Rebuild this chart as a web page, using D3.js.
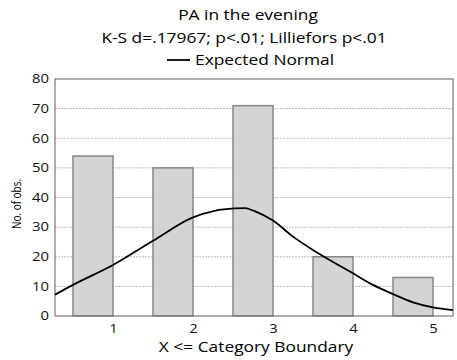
<!DOCTYPE html>
<html>
<head>
<meta charset="utf-8">
<script src="https://cdn.jsdelivr.net/npm/d3@7"></script>
<style>
  body { margin: 0; background: #fff; }
  svg { display: block; font-family: 'Open Sans', sans-serif; }
</style>
</head>
<body>
<svg></svg>
<script>
const w = 457;
const h = 360;

// bar categories (upper boundary) and counts
const categories = [1, 2, 3, 4, 5];
const counts = [54, 50, 71, 20, 13];

// expected normal curve
const curveX = [0.275, 0.5, 1.0, 1.5, 2.0, 2.27, 2.52, 2.65, 2.77, 3.0, 3.25, 3.5, 3.67, 4.0, 4.25, 4.5, 4.75, 5.0, 5.25];
const curveY = [7.2, 10.5, 17.2, 25.4, 33.3, 35.5, 36.3, 36.4, 35.4, 32.2, 26.8, 22.3, 19.5, 14.4, 10.5, 7.4, 4.6, 2.9, 2.0];

const yTicks = [0, 10, 20, 30, 40, 50, 60, 70, 80];

const plotLeft = 55, plotRight = 453, plotTop = 79, plotBottom = 316;
const sx = 1.24; // the reference type is wide

const svg = d3.select('svg').attr('width', w).attr('height', h);

const xScale = d3.scaleLinear().domain([0.275, 5.25]).range([plotLeft, plotRight]);
const yScale = d3.scaleLinear().domain([0, 80]).range([plotBottom, plotTop]);

// grid
svg.append('g')
  .selectAll('line')
  .data(yTicks.filter(d => d > 0 && d < 80))
  .enter()
  .append('line')
  .attr('x1', plotLeft)
  .attr('x2', plotRight)
  .attr('y1', d => yScale(d))
  .attr('y2', d => yScale(d))
  .attr('stroke', '#bdbdbd')
  .attr('stroke-width', 1)
  .attr('stroke-dasharray', '2,1');

// bars
svg.append('g')
  .selectAll('rect')
  .data(categories)
  .enter()
  .append('rect')
  .attr('x', d => xScale(d - 0.5))
  .attr('width', d => xScale(d) - xScale(d - 0.5))
  .attr('y', (d, i) => yScale(counts[i]))
  .attr('height', (d, i) => yScale(0) - yScale(counts[i]))
  .attr('fill', '#d3d4d6')
  .attr('stroke', '#868686')
  .attr('stroke-width', 1.5);

// frame
svg.append('rect')
  .attr('x', plotLeft)
  .attr('y', plotTop)
  .attr('width', plotRight - plotLeft)
  .attr('height', plotBottom - plotTop)
  .attr('fill', 'none')
  .attr('stroke', '#7a7a7a')
  .attr('stroke-width', 1.2);

// normal curve
const line = d3.line()
  .x((d, i) => xScale(curveX[i]))
  .y(d => yScale(d))
  .curve(d3.curveMonotoneX);

svg.append('path')
  .datum(curveY)
  .attr('d', line)
  .attr('fill', 'none')
  .attr('stroke', '#000')
  .attr('stroke-width', 1.8);

// axes
const yAxis = d3.axisLeft(yScale).tickValues(yTicks).tickSize(0).tickPadding(7);
const gy = svg.append('g').attr('transform', `translate(${plotLeft},0)`).call(yAxis);
gy.select('.domain').remove();
gy.selectAll('text')
  .attr('x', -6 / sx)
  .attr('transform', `scale(${sx},1)`)
  .style('font-size', '12px')
  .style('font-family', 'Open Sans, sans-serif')
  .attr('fill', '#111');

const xAxis = d3.axisBottom(xScale).tickValues(categories).tickFormat(d3.format('d')).tickSize(0).tickPadding(8);
const gx = svg.append('g').attr('transform', `translate(0,${plotBottom})`).call(xAxis);
gx.select('.domain').remove();
gx.selectAll('text')
  .attr('transform', `scale(${sx},1)`)
  .style('font-size', '12px')
  .style('font-family', 'Open Sans, sans-serif')
  .attr('fill', '#111');

// titles
function label(txt, x, y, size, anchor) {
  return svg.append('text')
    .text(txt)
    .attr('transform', `translate(${x},${y}) scale(${sx},1)`)
    .attr('text-anchor', anchor || 'middle')
    .style('font-size', size + 'px');
}

label('PA in the evening', 248, 20, 14);
label('K-S d=.17967; p<.01; Lilliefors p<.01', 244, 43, 14);

svg.append('line')
  .attr('x1', 167)
  .attr('x2', 190)
  .attr('y1', 60)
  .attr('y2', 60)
  .attr('stroke', '#000')
  .attr('stroke-width', 1.8);

label('Expected Normal', 195, 65, 14, 'start');

svg.append('text')
  .text('No. of obs.')
  .attr('transform', 'translate(21,204) rotate(-90) scale(1,1.2)')
  .attr('text-anchor', 'middle')
  .style('font-size', '10px');

label('X <= Category Boundary', 256, 352, 14);
</script>
</body>
</html>
